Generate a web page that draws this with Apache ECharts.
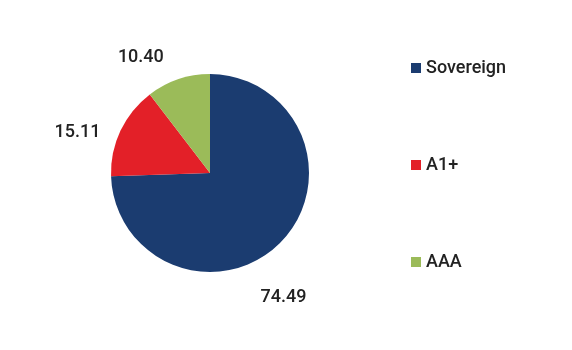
<!DOCTYPE html>
<html><head><meta charset="utf-8">
<script src="https://cdn.jsdelivr.net/npm/echarts@6/dist/echarts.min.js"></script>
<style>html,body{margin:0;padding:0;background:#fff}#c{width:572px;height:350px}</style>
</head><body><div id="c"></div>
<script>
const categories = ['Sovereign', 'A1+', 'AAA'];
const values = [74.49, 15.11, 10.40];

// styling (not data)
const colors = ['#1b3c70', '#e32028', '#9bbb59'];
const labelOffsets = [[-40, 42], [3, 10], [-3, -3]];

const chart = echarts.init(document.getElementById('c'));
chart.setOption({
  animation: false,
  legend: {
    orient: 'vertical',
    left: 411,
    top: 59,
    padding: 0,
    itemWidth: 10,
    itemHeight: 10,
    itemGap: 79,
    icon: 'rect',
    textStyle: { fontFamily: 'Roboto', fontSize: 18, fontWeight: 500, lineHeight: 18, color: '#222' },
    data: categories
  },
  series: [{
    type: 'pie',
    center: [210, 173],
    radius: 99,
    startAngle: 90,
    clockwise: true,
    label: {
      show: true,
      position: 'outside',
      fontFamily: 'Roboto', fontSize: 18, fontWeight: 500, color: '#222',
      formatter: p => p.value.toFixed(2)
    },
    labelLine: { show: false, length: 20, length2: 0 },
    itemStyle: { borderWidth: 0 },
    data: categories.map((c, i) => ({
      name: c, value: values[i],
      itemStyle: { color: colors[i] },
      label: { offset: labelOffsets[i] }
    }))
  }]
});
</script></body></html>
